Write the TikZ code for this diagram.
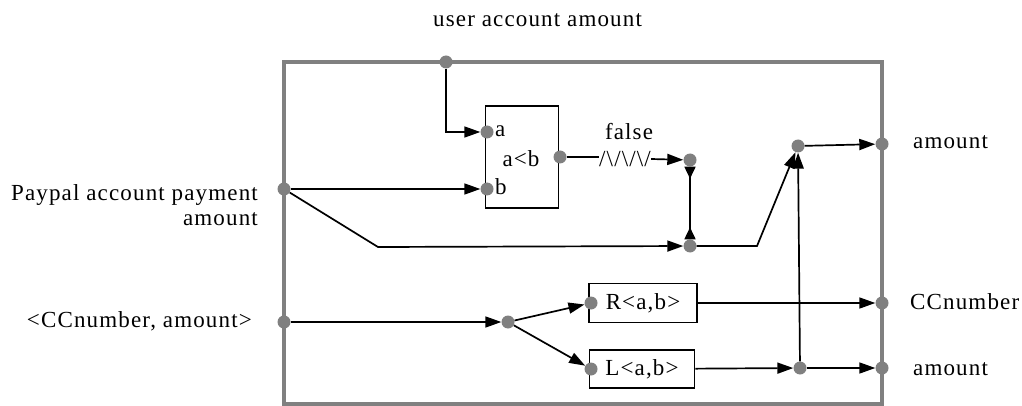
\documentclass[tikz,border=0pt]{standalone}
\usepackage{fontspec}
\setmainfont{Liberation Serif}[LetterSpace=5]
\usetikzlibrary{arrows.meta,positioning}
\definecolor{portgray}{RGB}{128,128,128}
\tikzstyle{port} = [circle, fill=portgray, draw=none, minimum size=13pt, inner sep=0pt]
\tikzstyle{flow} = [draw, line width=1.7pt, -{Triangle[length=16pt,width=11pt]}]
\tikzstyle{block} = [draw, line width=1.7pt, inner sep=0pt]
\tikzstyle{tag} = [inner sep=0pt]

\begin{document}
\begin{tikzpicture}[x=1pt, y=-1pt, font=\fontsize{23}{25}\selectfont]
        \useasboundingbox (0,0) rectangle (1022,406);
        \draw[portgray, line width=3.5pt] (284,62) rectangle (882,404);

        % blocks
        \node[block, minimum width=73pt, minimum height=102pt] (cmp) at (522,157) {};
        \node[block, minimum width=108pt, minimum height=39pt] (rbox) at (643,303) {R<a,b>};
        \node[block, minimum width=105pt, minimum height=38pt] (lbox) at (642,369) {L<a,b>};

        % ports
        \node[port] (ua) at (446,62) {};
        \node[port] (pin) at (284,189) {};
        \node[port] (ccin) at (284,322) {};
        \node[port] (pa) at (487,132) {};
        \node[port] (pb) at (487,189) {};
        \node[port] (pout) at (560,157) {};
        \node[port] (fdot) at (690,160) {};
        \node[port] (mdot) at (690,246) {};
        \node[port] (jdot) at (798,146) {};
        \node[port] (aout) at (882,144) {};
        \node[port] (split) at (508,322) {};
        \node[port] (rin) at (591,303) {};
        \node[port] (lin) at (591,369) {};
        \node[port] (ldot) at (800,368) {};
        \node[port] (ccout) at (882,303) {};
        \node[port] (lout) at (882,368) {};
        \coordinate (bend1) at (378,247);
        \coordinate (bend2) at (757,246);

        % texts
        \node[tag, anchor=base west] (ualbl) at (433,27) {user account amount};
        \node[tag, anchor=east, align=right] (pinlbl) at (258,205) {Paypal account payment\\amount};
        \node[tag, anchor=base east] (cclbl) at (252,327) {<CCnumber, amount>};
        \node[tag, anchor=base] (cmplbl) at (521,167) {a<b};
        \node[tag, anchor=base west] (alblA) at (495,137) {a};
        \node[tag, anchor=base west] (alblB) at (495,194) {b};
        \node[tag] (zz) at (625,159) {/\textbackslash/\textbackslash/\textbackslash/};
        \node[tag, anchor=base] (flbl) at (629,140) {false};
        \node[tag, anchor=base west] (aoutlbl) at (913,149) {amount};
        \node[tag, anchor=base west] (ccoutlbl) at (910,309) {CCnumber};
        \node[tag, anchor=base west] (loutlbl) at (913,375) {amount};

        % connectors
        \draw[flow] (ua) |- (pa);
        \draw[flow] (pin) -- (pb);
        \draw[flow] (pin) -- (bend1) -- (mdot);
        \draw[line width=1.7pt] (pout) -- (zz.west |- pout);
        \draw[flow] (zz.east) -- (fdot);
        \draw[line width=1.7pt, {Triangle[length=12pt,width=11pt,reversed]}-{Triangle[length=12pt,width=11pt,reversed]}] (fdot) -- (mdot);
        \draw[flow] (mdot) -- (bend2) -- (jdot);
        \draw[flow] (jdot) -- (aout);
        \draw[flow] (ccin) -- (split);
        \draw[flow] (split) -- (rin);
        \draw[flow] (split) -- (lin);
        \draw[flow] (rbox) -- (ccout);
        \draw[flow] (lbox) -- (ldot);
        \draw[flow] (ldot) -- (lout);
        \draw[flow] (ldot) -- (jdot);
    \end{tikzpicture}
\end{document}
